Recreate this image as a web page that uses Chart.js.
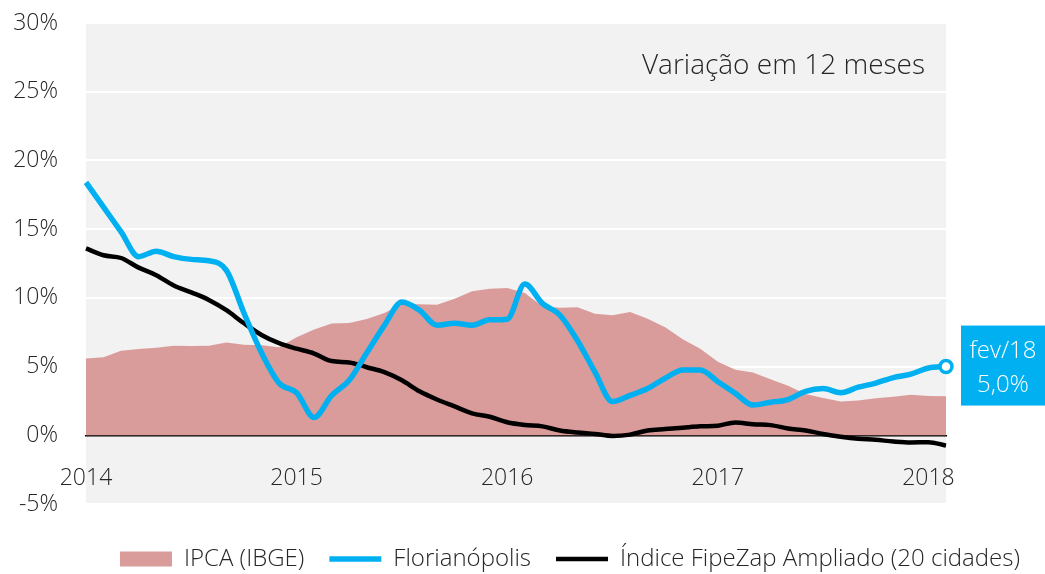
<!DOCTYPE html>
<html lang="pt-BR">
<head>
<meta charset="utf-8">
<script src="https://cdn.jsdelivr.net/npm/chart.js@4.4.1/dist/chart.umd.min.js"></script>
<style>
  html, body { margin: 0; padding: 0; background: #fff; }
  #wrap { width: 1045px; height: 574px; }
</style>
</head>
<body>
<div id="wrap"><canvas id="grafico"></canvas></div>
<script>
// meses de jan/14 a fev/18
const nomesMes = ['jan', 'fev', 'mar', 'abr', 'mai', 'jun', 'jul', 'ago', 'set', 'out', 'nov', 'dez'];
const meses = [];
for (let ano = 14; ano <= 18; ano++) {
  for (let m = 0; m < 12; m++) {
    if (ano === 18 && m > 1) break;
    meses.push(nomesMes[m] + '/' + ano);
  }
}

const ipca = [
  5.59, 5.68, 6.15, 6.28, 6.37, 6.52, 6.50, 6.51, 6.75, 6.59, 6.56, 6.41,
  7.14, 7.70, 8.13, 8.17, 8.47, 8.89, 9.56, 9.53, 9.49, 9.93, 10.48, 10.67,
  10.71, 10.36, 9.39, 9.28, 9.32, 8.84, 8.74, 8.97, 8.48, 7.87, 6.99, 6.29,
  5.35, 4.76, 4.57, 4.08, 3.60, 3.00, 2.71, 2.46, 2.54, 2.70, 2.80, 2.95,
  2.86, 2.84
];

const florianopolis = [
  18.4, 16.6, 14.8, 13.0, 13.4, 13.0, 12.8, 12.7, 12.0, 8.9, 6.0, 3.8,
  3.1, 1.3, 2.9, 4.0, 6.0, 8.0, 9.7, 9.1, 8.0, 8.15, 8.0, 8.4,
  8.45, 11.0, 9.6, 8.75, 6.9, 4.6, 2.45, 2.9, 3.4, 4.15, 4.75, 4.75,
  3.9, 3.05, 2.2, 2.4, 2.6, 3.2, 3.4, 3.1, 3.5, 3.8, 4.2, 4.45,
  4.9, 5.0
];

const fipezap = [
  13.6, 13.1, 12.9, 12.2, 11.65, 10.9, 10.4, 9.85, 9.1, 8.15, 7.3, 6.7,
  6.3, 5.95, 5.4, 5.3, 4.95, 4.6, 4.0, 3.2, 2.6, 2.1, 1.6, 1.35,
  0.95, 0.75, 0.65, 0.35, 0.2, 0.1, -0.05, 0.05, 0.35, 0.45, 0.55, 0.65,
  0.7, 0.93, 0.8, 0.74, 0.5, 0.35, 0.1, -0.1, -0.25, -0.33, -0.45, -0.52,
  -0.5, -0.75
];

const AZUL = '#00b0f0';
const ROSA = '#da9c9b';
const TEXTO = '#262626';
const FONTE = "'Segoe UI', 'Open Sans', sans-serif";

// fundo cinza da área do gráfico
const fundo = {
  id: 'fundo',
  beforeDraw(chart) {
    const {ctx, chartArea: a} = chart;
    ctx.save();
    ctx.fillStyle = '#f2f2f2';
    ctx.fillRect(a.left, a.top, a.width, a.height);
    ctx.restore();
  }
};

// título interno e caixa do último valor
const textos = {
  id: 'textos',
  afterDraw(chart) {
    const {ctx, chartArea: a} = chart;
    ctx.save();
    ctx.fillStyle = TEXTO;
    ctx.font = '300 28px ' + FONTE;
    ctx.textAlign = 'right';
    ctx.textBaseline = 'alphabetic';
    ctx.fillText('Variação em 12 meses', a.right - 21, a.top + 51);

    const meta = chart.getDatasetMeta(1);
    const ult = meta.data[meta.data.length - 1];
    const esq = ult.x + 15;
    ctx.fillStyle = AZUL;
    ctx.fillRect(esq, ult.y - 41, chart.width - esq, 80);
    ctx.fillStyle = '#fff';
    ctx.font = '300 24px ' + FONTE;
    ctx.textAlign = 'center';
    ctx.textBaseline = 'middle';
    const cx = esq + (chart.width - esq) / 2;
    const v = florianopolis[florianopolis.length - 1];
    ctx.fillText(meses[meses.length - 1], cx, ult.y - 15);
    ctx.fillText(v.toFixed(1).replace('.', ',') + '%', cx, ult.y + 19);
    ctx.restore();
  }
};

const ultimo = florianopolis.length - 1;

new Chart(document.getElementById('grafico'), {
  type: 'line',
  data: {
    labels: meses,
    datasets: [
      {
        label: 'IPCA (IBGE)',
        data: ipca,
        backgroundColor: ROSA,
        borderWidth: 0,
        fill: 'origin',
        pointRadius: 0,
        tension: 0,
        order: 3
      },
      {
        label: 'Florianópolis',
        data: florianopolis,
        borderColor: AZUL,
        borderWidth: 5.5,
        fill: false,
        cubicInterpolationMode: 'monotone',
        pointRadius: florianopolis.map((_, i) => i === ultimo ? 6 : 0),
        pointBorderWidth: 3.5,
        pointBackgroundColor: '#fff',
        pointBorderColor: AZUL,
        order: 1
      },
      {
        label: 'Índice FipeZap Ampliado (20 cidades)',
        data: fipezap,
        borderColor: '#000',
        borderWidth: 4.5,
        fill: false,
        cubicInterpolationMode: 'monotone',
        pointRadius: 0,
        order: 2
      }
    ]
  },
  options: {
    responsive: true,
    maintainAspectRatio: false,
    animation: false,
    layout: { padding: { top: 23, right: 0, bottom: -7, left: 0 } },
    plugins: {
      tooltip: { enabled: false },
      legend: {
        position: 'bottom',
        align: 'end',
        // título vazio só para abrir espaço acima dos itens
        title: { display: true, text: '', font: { size: 10 }, padding: { top: 6, bottom: 0 } },
        labels: {
          usePointStyle: true,
          pointStyleWidth: 52,
          boxHeight: 15,
          padding: 25,
          color: TEXTO,
          font: { family: FONTE, size: 24, weight: '300' },
          generateLabels(chart) {
            return chart.data.datasets.map((ds, i) => ({
              text: ds.label,
              datasetIndex: i,
              hidden: false,
              fontColor: TEXTO,
              fillStyle: i === 0 ? ROSA : 'transparent',
              strokeStyle: i === 0 ? ROSA : ds.borderColor,
              lineWidth: i === 0 ? 0 : ds.borderWidth,
              pointStyle: i === 0 ? 'rect' : 'line'
            }));
          }
        }
      }
    },
    scales: {
      x: {
        position: { y: 0 },
        z: 1,
        grid: { display: false },
        border: { display: true, color: '#000', width: 1.5 },
        ticks: {
          autoSkip: false,
          maxRotation: 0,
          padding: 21,
          color: TEXTO,
          font: { family: FONTE, size: 23, weight: '300' },
          callback(val, i) {
            const m = meses[i];
            return m.startsWith('jan') ? '20' + m.slice(4) : null;
          }
        }
      },
      y: {
        min: -5,
        max: 30,
        afterFit(s) { s.width = 86; },
        border: { display: false },
        // marcas invisíveis afastam os rótulos sem mexer no topo
        grid: { color: '#fff', lineWidth: 2, drawTicks: true, tickLength: 28, tickColor: 'rgba(0,0,0,0)' },
        ticks: {
          stepSize: 5,
          padding: 0,
          color: TEXTO,
          font: { family: FONTE, size: 23, weight: '300' },
          callback: v => v + '%'
        }
      },
      // eixo vazio à direita: espaço para a caixa fev/18
      lado: {
        type: 'linear',
        position: 'right',
        afterFit(s) { s.width = 99; },
        grid: { display: false },
        border: { display: false },
        ticks: { display: false }
      }
    }
  },
  plugins: [fundo, textos]
});
</script>
</body>
</html>
